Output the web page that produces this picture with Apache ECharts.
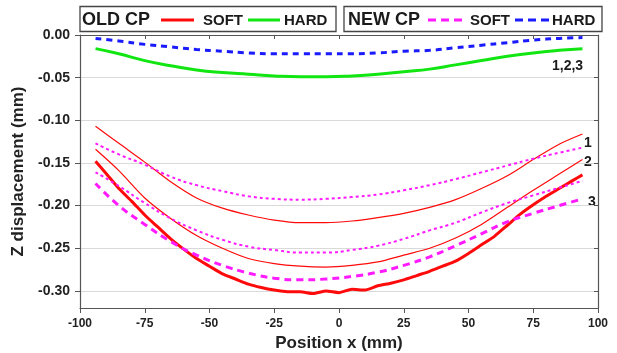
<!DOCTYPE html>
<html><head><meta charset="utf-8">
<script src="https://cdn.jsdelivr.net/npm/echarts@6/dist/echarts.min.js"></script>
<style>html,body{margin:0;padding:0;background:#fff}#c{width:617px;height:353px}</style>
</head><body><div id="c"></div>
<script>
// x positions (mm)
var POS = [-94,-85,-75,-65,-55,-45,-35,-25,-15,-5,5,15,25,35,45,55,65,75,85,94];
var POS_FINE = [-94,-90,-85,-80,-75,-70,-65,-60,-55,-50,-45,-40,-35,-30,-25,-20,-15,-10,-5,0,5,10,15,20,25,30,35,40,45,50,55,60,65,70,75,80,85,90,94];
// OLD CP
var oldHard  = [-0.016,-0.022,-0.030,-0.036,-0.041,-0.044,-0.046,-0.048,-0.049,-0.049,-0.048,-0.046,-0.043,-0.040,-0.035,-0.030,-0.025,-0.021,-0.018,-0.016];
var oldSoft1 = [-0.107,-0.127,-0.149,-0.172,-0.191,-0.203,-0.211,-0.217,-0.220,-0.220,-0.218,-0.214,-0.209,-0.202,-0.193,-0.180,-0.165,-0.146,-0.128,-0.116];
var oldSoft2 = [-0.134,-0.159,-0.191,-0.215,-0.235,-0.250,-0.262,-0.268,-0.271,-0.272,-0.270,-0.266,-0.258,-0.250,-0.238,-0.222,-0.202,-0.182,-0.163,-0.146];
var oldSoft3 = [-0.148,-0.162,-0.180,-0.195,-0.211,-0.225,-0.239,-0.251,-0.262,-0.271,-0.280,-0.286,-0.292,-0.296,-0.299,-0.301,-0.301,-0.303,-0.300,-0.302,-0.298,-0.299,-0.294,-0.291,-0.287,-0.282,-0.277,-0.271,-0.265,-0.256,-0.246,-0.236,-0.223,-0.210,-0.199,-0.189,-0.180,-0.171,-0.164];
// NEW CP
var newHard  = [-0.004,-0.007,-0.011,-0.014,-0.017,-0.019,-0.021,-0.022,-0.022,-0.022,-0.022,-0.021,-0.019,-0.018,-0.015,-0.012,-0.009,-0.006,-0.004,-0.003];
var newSoft1 = [-0.127,-0.140,-0.152,-0.166,-0.176,-0.183,-0.189,-0.192,-0.193,-0.192,-0.190,-0.187,-0.182,-0.176,-0.169,-0.161,-0.153,-0.145,-0.138,-0.132];
var newSoft2 = [-0.161,-0.177,-0.197,-0.215,-0.229,-0.240,-0.248,-0.252,-0.255,-0.255,-0.252,-0.247,-0.239,-0.229,-0.220,-0.208,-0.197,-0.188,-0.179,-0.171];
var newSoft3 = [-0.174,-0.200,-0.222,-0.242,-0.258,-0.270,-0.279,-0.285,-0.287,-0.286,-0.283,-0.278,-0.270,-0.260,-0.247,-0.233,-0.219,-0.209,-0.200,-0.192];
var xTicks = ['-100','-75','-50','-25','0','25','50','75','100'];

function zip(xs, ys){ return xs.map(function(x,i){return [x, ys[i]];}); }
var RED='#ff0a0a', GREEN='#12e612', MAG='#ff1aff', BLUE='#1a1aff';
var FONT='Liberation Sans';
function ln(name, xs, ys, color, width, type, smooth){
  return {name:name,type:'line',data:zip(xs,ys),showSymbol:false,symbol:'none',smooth:smooth,
    lineStyle:{color:color,width:width,type:type},z:3};
}
function txt(x, y, s, size){
  return {type:'text',x:x,y:y,style:{text:s,font:'bold '+size+'px "Liberation Sans"',fill:'#1a1a1a',textVerticalAlign:'middle'}};
}
var chart = echarts.init(document.getElementById('c'),null,{renderer:'canvas'});
var axisCol='#555';
var option = {
  animation:false,
  backgroundColor:'#fff',
  grid:{left:80,right:19,top:35,bottom:45,containLabel:false,outerBoundsMode:'none'},
  xAxis:[{type:'value',min:-100,max:100,interval:25,position:'bottom',
    name:'Position x (mm)',nameLocation:'middle',nameGap:24,
    nameTextStyle:{fontFamily:FONT,fontWeight:'bold',fontSize:17,color:'#222'},
    axisLine:{show:true,onZero:false,lineStyle:{color:axisCol,width:1.2}},
    axisTick:{show:true,inside:false,length:5,lineStyle:{color:axisCol}},
    axisLabel:{fontFamily:FONT,fontWeight:'bold',fontSize:12,color:'#222',margin:10,
      formatter:function(v){return xTicks[Math.round((v+100)/25)];}},
    splitLine:{show:false}},
   {type:'value',min:-100,max:100,interval:25,position:'top',
    axisLine:{show:true,onZero:false,lineStyle:{color:axisCol,width:1.2}},
    axisTick:{show:true,inside:true,length:4,lineStyle:{color:axisCol}},
    axisLabel:{show:false},splitLine:{show:false}}],
  yAxis:[{type:'value',min:-0.32,max:0,splitNumber:6,minInterval:0.05,maxInterval:0.05,
    name:'Z displacement (mm)',nameLocation:'middle',nameGap:52,
    nameTextStyle:{fontFamily:FONT,fontWeight:'bold',fontSize:17,color:'#222'},
    axisLine:{show:true,onZero:false,lineStyle:{color:axisCol,width:1.2}},
    axisTick:{show:true,inside:false,length:5,lineStyle:{color:axisCol}},
    axisLabel:{fontFamily:FONT,fontWeight:'bold',fontSize:14,color:'#222',margin:10,showMinLabel:false,
      formatter:function(v){return v.toFixed(2);}},
    splitLine:{show:true,lineStyle:{color:'#d9d9d9',width:1.2}}},
   {type:'value',min:-0.32,max:0,splitNumber:6,minInterval:0.05,maxInterval:0.05,position:'right',
    axisLine:{show:true,onZero:false,lineStyle:{color:axisCol,width:1.2}},
    axisTick:{show:true,inside:true,length:4,lineStyle:{color:axisCol}},
    axisLabel:{show:false},splitLine:{show:false}}],
  series:[
    ln('OLD HARD',POS,oldHard,GREEN,3,'solid',true),
    ln('NEW HARD',POS,newHard,BLUE,3,[6,5],true),
    ln('OLD SOFT 1',POS,oldSoft1,RED,1.2,'solid',0.3),
    ln('OLD SOFT 2',POS,oldSoft2,RED,1.2,'solid',0.3),
    ln('OLD SOFT 3',POS_FINE,oldSoft3,RED,3,'solid',0.2),
    ln('NEW SOFT 1',POS,newSoft1,MAG,2,[3,3],true),
    ln('NEW SOFT 2',POS,newSoft2,MAG,2,[3,3],true),
    ln('NEW SOFT 3',POS,newSoft3,MAG,3,[7,5],true)
  ],
  graphic:[
    {type:'rect',shape:{x:80,y:6.5,width:256,height:25},style:{fill:'#fff',stroke:'#444',lineWidth:1.3}},
    txt(82,20,'OLD CP',18),
    {type:'line',shape:{x1:161,y1:20,x2:194,y2:20},style:{stroke:RED,lineWidth:3}},
    txt(203,20.5,'SOFT',15),
    {type:'line',shape:{x1:248,y1:20,x2:280,y2:20},style:{stroke:GREEN,lineWidth:3}},
    txt(284,20.5,'HARD',15),
    {type:'rect',shape:{x:344,y:6.5,width:258,height:25},style:{fill:'#fff',stroke:'#444',lineWidth:1.3}},
    txt(348,20,'NEW CP',18),
    {type:'line',shape:{x1:428,y1:20,x2:462,y2:20},style:{stroke:MAG,lineWidth:3,lineDash:[8,5]}},
    txt(470,20.5,'SOFT',15),
    {type:'line',shape:{x1:515,y1:20,x2:549,y2:20},style:{stroke:BLUE,lineWidth:3,lineDash:[8,5]}},
    txt(552,20.5,'HARD',15),
    txt(584,143,'1',14),
    txt(584,162,'2',14),
    txt(588,202,'3',14),
    txt(552,66,'1,2,3',14)
  ]
};
chart.setOption(option);
</script></body></html>
